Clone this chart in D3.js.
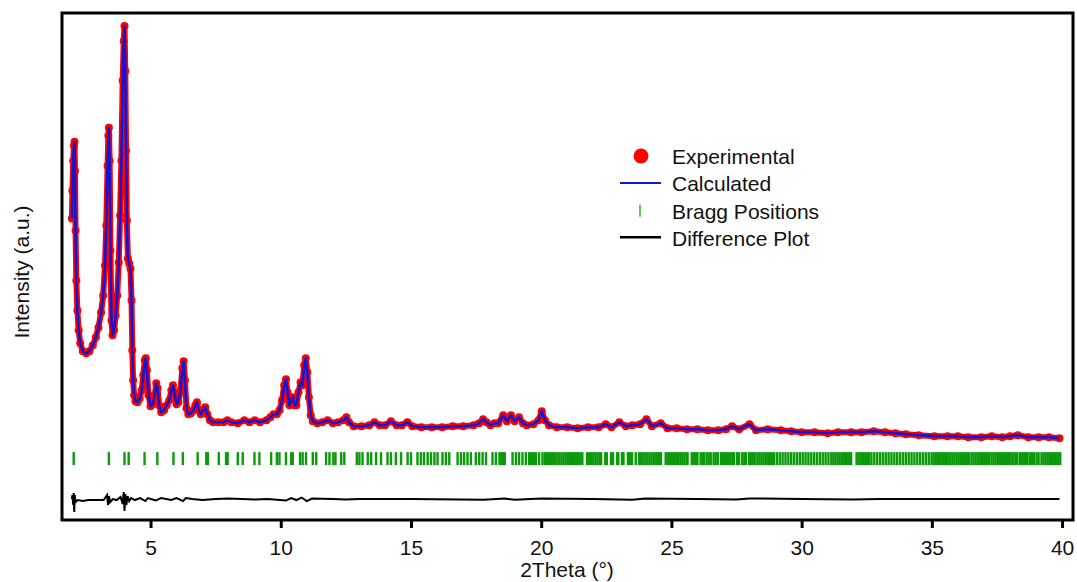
<!DOCTYPE html>
<html>
<head>
<meta charset="utf-8">
<script src="https://cdn.jsdelivr.net/npm/d3@7"></script>
<style>
  body { margin: 0; background: #fff; }
  text { font-family: "Liberation Sans", Arial, sans-serif; }
</style>
</head>
<body>
<svg id="rietveld"></svg>
<script>
let width = 1077
let height = 582
let frame = {left: 62, right: 1073, top: 13, bottom: 520}

const observed = [
  [1.98,2220],[2.00,2500],[2.03,2800],[2.06,2950],[2.08,2990],[2.10,2700],[2.12,2100],[2.15,1600],
  [2.19,1300],[2.24,1100],[2.30,970],[2.40,890],[2.53,870],[2.65,890],[2.78,950],[2.90,1030],
  [3.00,1130],[3.10,1280],[3.18,1450],[3.25,1750],[3.30,2150],[3.35,2750],[3.38,3050],[3.40,3130],
  [3.43,2800],[3.46,1900],[3.50,1200],[3.54,1050],[3.60,1100],[3.66,1250],[3.72,1450],[3.78,1780],
  [3.83,2250],[3.88,2800],[3.93,3600],[3.97,4000],[4.00,4150],[4.03,3700],[4.06,2900],[4.09,2200],
  [4.13,1820],[4.18,1770],[4.23,1720],[4.27,1400],[4.30,900],[4.33,600],[4.37,450],[4.42,390],
  [4.50,380],[4.58,420],[4.66,500],[4.72,650],[4.78,800],[4.82,820],[4.86,700],[4.92,450],
  [5.00,340],[5.08,360],[5.16,450],[5.22,570],[5.27,520],[5.33,350],[5.41,280],[5.52,300],
  [5.62,350],[5.72,400],[5.80,500],[5.86,550],[5.92,470],[6.00,360],[6.07,380],[6.15,500],
  [6.22,720],[6.27,790],[6.32,600],[6.38,320],[6.45,260],[6.55,270],[6.65,300],[6.72,350],
  [6.78,380],[6.85,300],[6.93,260],[7.02,300],[7.10,330],[7.18,260],[7.28,200],[7.40,180],
  [7.60,180],[7.80,180],[7.95,200],[8.10,180],[8.35,170],[8.60,200],[8.80,180],[9.00,200],
  [9.20,180],[9.45,200],[9.60,230],[9.72,260],[9.85,260],[9.95,300],[10.05,400],[10.13,550],
  [10.20,610],[10.26,480],[10.33,350],[10.40,400],[10.46,430],[10.53,350],[10.60,350],[10.68,480],
  [10.76,580],[10.83,550],[10.90,750],[10.96,820],[11.02,680],[11.08,430],[11.15,250],[11.23,190],
  [11.40,170],[11.60,180],[11.80,200],[12.00,170],[12.20,180],[12.40,200],[12.52,230],[12.62,180],
  [12.80,140],[13.10,140],[13.40,150],[13.60,180],[13.80,150],[14.00,150],[14.23,190],[14.45,150],
  [14.65,150],[14.86,180],[15.05,140],[15.40,130],[15.80,130],[16.20,130],[16.60,140],[17.00,140],
  [17.40,150],[17.62,170],[17.77,210],[17.90,180],[18.05,150],[18.20,170],[18.35,170],[18.54,250],
  [18.68,190],[18.84,250],[18.98,190],[19.15,230],[19.30,170],[19.45,150],[19.70,160],[19.90,200],
  [20.02,290],[20.14,200],[20.30,150],[20.60,130],[21.00,130],[21.40,120],[21.80,130],[22.20,130],
  [22.48,160],[22.70,130],[23.00,180],[23.25,140],[23.50,150],[23.80,160],[24.04,210],[24.25,140],
  [24.59,170],[24.85,120],[25.20,120],[25.60,110],[26.00,110],[26.40,100],[26.80,100],[27.10,110],
  [27.33,140],[27.60,110],[28.00,160],[28.25,100],[28.70,110],[29.20,100],[29.60,90],[30.00,80],
  [30.50,80],[31.00,70],[31.40,80],[31.90,80],[32.30,80],[32.77,90],[33.20,80],[33.60,70],
  [34.00,60],[34.50,50],[35.10,40],[35.60,40],[36.00,40],[36.40,30],[36.90,30],[37.30,40],
  [37.70,30],[38.00,40],[38.30,50],[38.70,30],[39.10,30],[39.50,30],[39.90,20]
]

// the calculated profile sits on top of the observed one at this scale
const calculated = observed.map(d => [d[0], d[1]])

// difference (obs - calc), drawn around an offset below the pattern
const difference = [
  [1.98,0],[2.00,40],[2.03,-60],[2.05,60],[2.07,-130],[2.09,40],[2.12,-30],[2.20,-10],[2.40,-20],
  [2.60,-10],[2.80,-10],[3.00,-10],[3.20,-10],[3.33,40],[3.37,-60],[3.40,30],[3.45,-30],[3.55,0],
  [3.70,-10],[3.85,20],[3.93,-50],[3.97,70],[4.00,-120],[4.03,50],[4.07,-60],[4.12,30],[4.18,-20],
  [4.25,10],[4.40,-10],[4.60,10],[4.80,-20],[4.90,10],[5.20,-15],[5.40,10],[5.80,-10],[6.00,10],
  [6.25,-20],[6.35,10],[6.60,0],[7.00,-10],[7.50,0],[8.00,5],[9.00,-5],[9.50,0],[10.20,-15],
  [10.40,10],[10.60,-10],[10.80,15],[11.00,-20],[11.20,5],[12.00,0],[12.50,-5],[13.00,0],[15.00,0],
  [17.80,-8],[18.60,5],[19.00,-8],[20.00,5],[22.00,0],[23.50,-8],[24.00,5],[26.00,0],[27.50,-5],
  [28.00,6],[30.00,0],[32.00,-5],[33.00,0],[35.00,0],[37.00,0],[39.90,0]
]
const diffOffset = -590

// Bragg reflection positions (2theta)
const braggPositions = [
  2.05,3.40,4.00,4.16,4.77,5.26,5.88,6.24,6.81,7.14,7.20,7.62,7.90,7.96,8.35,8.54,8.99,9.18,9.63,
  9.85,9.95,10.20,10.40,10.46,10.74,10.84,10.97,11.23,11.36,11.74,11.87,12.02,12.10,12.32,12.44,
  12.92,13.02,13.14,13.34,13.47,13.66,13.85,14.10,14.23,14.42,14.62,14.87,15.00,15.25,15.38,15.50,
  15.64,15.77,15.90,16.02,16.21,16.34,16.47,16.79,16.92,17.04,17.17,17.30,17.49,17.62,17.75,17.88,
  18.13,18.26,18.40,18.47,18.54,18.60,18.90,19.03,19.15,19.28,19.41,19.54,19.61,19.68,19.75,19.80,
  19.92,20.05,20.14,20.22,20.30,20.38,20.46,20.54,20.62,20.70,20.78,20.86,20.94,21.02,21.10,21.18,
  21.26,21.34,21.42,21.50,21.58,21.76,21.84,21.92,22.00,22.08,22.16,22.24,22.30,22.46,22.52,22.68,
  22.76,22.92,22.96,23.10,23.16,23.33,23.41,23.49,23.63,23.76,23.84,23.92,24.00,24.08,24.16,24.24,
  24.32,24.40,24.48,24.56,24.60,24.78,24.86,24.94,25.02,25.10,25.18,25.26,25.34,25.42,25.50,25.58,
  25.62,25.78,25.86,25.94,26.00,26.12,26.20,26.25,26.35,26.43,26.51,26.62,26.70,26.78,26.90,26.98,
  27.02,27.10,27.18,27.26,27.34,27.40,27.52,27.60,27.72,27.80,27.86,27.98,28.06,28.14,28.20,28.30,
  28.38,28.46,28.54,28.62,28.70,28.78,28.86,28.94,29.05,29.16,29.27,29.38,29.49,29.60,29.71,29.82,
  29.93,30.04,30.15,30.26,30.37,30.48,30.59,30.70,30.81,30.92,31.03,31.14,31.22,31.30,31.38,31.46,
  31.54,31.62,31.70,31.78,31.86,31.90,32.11,32.19,32.27,32.35,32.43,32.51,32.59,32.68,32.79,32.90,
  33.01,33.12,33.23,33.34,33.45,33.56,33.67,33.78,33.89,34.00,34.11,34.22,34.33,34.44,34.55,34.66,
  34.77,34.88,34.99,35.07,35.15,35.23,35.31,35.39,35.47,35.55,35.63,35.71,35.79,35.87,35.95,36.03,
  36.11,36.19,36.27,36.35,36.42,36.52,36.60,36.68,36.76,36.84,36.92,37.00,37.08,37.16,37.20,37.29,
  37.37,37.45,37.53,37.61,37.69,37.77,37.85,37.93,37.96,38.05,38.13,38.21,38.28,38.38,38.46,38.54,
  38.62,38.67,38.76,38.84,38.92,39.02,39.10,39.21,39.29,39.37,39.45,39.53,39.61,39.69,39.77,39.85,
  39.93
]
const braggTop = -120
const braggBottom = -250

const xTicks = [5, 10, 15, 20, 25, 30, 35, 40]
const legendItems = ["Experimental", "Calculated", "Bragg Positions", "Difference Plot"]

let xScale = d3.scaleLinear().domain([1.6, 40.42]).range([frame.left, frame.right])
let yScale = d3.scaleLinear().domain([-800, 4280]).range([frame.bottom, frame.top])

let svg = d3.select("#rietveld")
    .attr("width", width)
    .attr("height", height)

svg.append("rect")
    .attr("width", width)
    .attr("height", height)
    .attr("fill", "white")

let line = d3.line()
    .x(d => xScale(d[0]))
    .y(d => yScale(d[1]))

// experimental: red band of points
svg.append("path")
    .datum(observed)
    .attr("d", line)
    .attr("fill", "none")
    .attr("stroke", "#ff0000")
    .attr("stroke-width", 6)
    .attr("stroke-linejoin", "round")
    .attr("stroke-linecap", "round")

svg.append("g")
    .selectAll("circle")
    .data(observed)
    .enter()
    .append("circle")
    .attr("cx", d => xScale(d[0]))
    .attr("cy", d => yScale(d[1]))
    .attr("r", 4)
    .attr("fill", "#ff0000")

// calculated
svg.append("path")
    .datum(calculated)
    .attr("d", line)
    .attr("fill", "none")
    .attr("stroke", "#1414d2")
    .attr("stroke-width", 2.6)
    .attr("stroke-linejoin", "round")

// bragg ticks
svg.append("g")
    .selectAll("line")
    .data(braggPositions)
    .enter()
    .append("line")
    .attr("x1", d => xScale(d))
    .attr("x2", d => xScale(d))
    .attr("y1", yScale(braggTop))
    .attr("y2", yScale(braggBottom))
    .attr("stroke", "#0a9a0a")
    .attr("stroke-width", 2.4)

// difference
svg.append("path")
    .datum(difference)
    .attr("d", d3.line().x(d => xScale(d[0])).y(d => yScale(d[1] + diffOffset)))
    .attr("fill", "none")
    .attr("stroke", "black")
    .attr("stroke-width", 2)

// frame
svg.append("rect")
    .attr("x", frame.left)
    .attr("y", frame.top)
    .attr("width", frame.right - frame.left)
    .attr("height", frame.bottom - frame.top)
    .attr("fill", "none")
    .attr("stroke", "black")
    .attr("stroke-width", 3)

// x axis
let xAxis = svg.append("g")
    .attr("transform", "translate(0," + frame.bottom + ")")
    .call(d3.axisBottom(xScale).tickValues(xTicks).tickSize(8).tickPadding(12))

xAxis.select(".domain").remove()
xAxis.selectAll(".tick line").attr("stroke", "black").attr("stroke-width", 3)
xAxis.selectAll(".tick text")
    .attr("fill", "#111")
    .attr("font-size", 21)
    .style("font-family", "Liberation Sans, Arial, sans-serif")

svg.append("text")
    .text("2Theta (°)")
    .attr("x", 567)
    .attr("y", 577)
    .attr("text-anchor", "middle")
    .attr("font-size", 21)
    .attr("fill", "#111")

svg.append("text")
    .text("Intensity (a.u.)")
    .attr("transform", "translate(29,272) rotate(-90)")
    .attr("text-anchor", "middle")
    .attr("font-size", 21)
    .attr("fill", "#111")

// legend
let legend = svg.append("g").attr("transform", "translate(620,156)")
let rowGap = 27.4

legend.append("circle").attr("cx", 21).attr("cy", 0).attr("r", 7.5).attr("fill", "#ff0000")
legend.append("line").attr("x1", 0).attr("x2", 41).attr("y1", rowGap - 0.5).attr("y2", rowGap - 0.5)
    .attr("stroke", "#1414d2").attr("stroke-width", 2)
legend.append("line").attr("x1", 20).attr("x2", 20).attr("y1", rowGap * 2 - 6).attr("y2", rowGap * 2 + 6)
    .attr("stroke", "#3cb43c").attr("stroke-width", 1.6)
legend.append("line").attr("x1", 0).attr("x2", 41).attr("y1", rowGap * 3 - 1).attr("y2", rowGap * 3 - 1)
    .attr("stroke", "black").attr("stroke-width", 2.6)

legend.selectAll(".legend-label")
    .data(legendItems)
    .enter()
    .append("text")
    .attr("class", "legend-label")
    .text(d => d)
    .attr("x", 52)
    .attr("y", (d, i) => i * rowGap + 8)
    .attr("font-size", 21)
    .attr("fill", "#111")
</script>
</body>
</html>
